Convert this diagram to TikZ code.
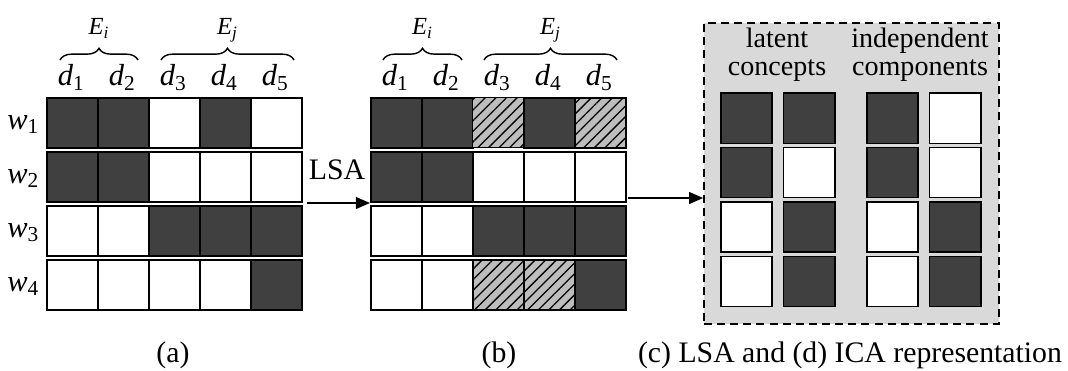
\documentclass[tikz,border=0pt]{standalone}
\usepackage{fontspec}
\setmainfont{Liberation Serif}
\usetikzlibrary{decorations.pathreplacing,patterns.meta,arrows.meta}
\definecolor{cellgray}{HTML}{404040}
\definecolor{hatchgray}{HTML}{BDBDBD}
\definecolor{boxgray}{HTML}{D9D9D9}
\begin{document}
\begin{tikzpicture}[x=0.015cm,y=-0.015cm,
	cell/.style={draw,line width=0.65pt,inner sep=0pt,minimum width=0.765cm,minimum height=0.75cm,anchor=north west},
	bigcell/.style={cell,minimum width=0.77cm,minimum height=0.75cm},
	v0/.style={fill=white},
	v1/.style={fill=cellgray},
	v2/.style={preaction={fill=hatchgray},pattern={Lines[angle=45,distance=3.2pt,line width=0.55pt]}},
	idx/.style={font=\fontsize{13}{13}\selectfont,inner sep=0pt},
	setlbl/.style={font=\fontsize{10.5}{10.5}\selectfont,inner sep=0pt,anchor=base},
	captxt/.style={font=\fontsize{12.7}{12.7}\selectfont,inner sep=0pt,anchor=base},
	headtxt/.style={font=\fontsize{12}{12}\selectfont,align=center,inner sep=0pt},
	setbrace/.style={decorate,decoration={brace,amplitude=5pt},line width=0.6pt},
	flow/.style={line width=0.8pt,-{Triangle[length=6pt,width=5pt]}}]
	\useasboundingbox (0,0) rectangle (1068,371);

	%Dashed panel behind (c) and (d)
	\node[draw,fill=boxgray,line width=0.65pt,dash pattern=on 3.4pt off 2.2pt,minimum width=4.425cm,minimum height=4.515cm,inner sep=0pt] (cdbox) at (851.5,173.5) {};

	%Matrix (a): 0 = white, 1 = dark
	\foreach \r/\row in {1/{1,1,0,1,0},2/{1,1,0,0,0},3/{0,0,1,1,1},4/{0,0,0,0,1}}
		\foreach \v [count=\c] in \row
			\node[cell,v\v] (a-\r-\c) at ({46+51*(\c-1)},{97+54*(\r-1)}) {};

	%Matrix (b): 2 = hatched
	\foreach \r/\row in {1/{1,1,2,1,2},2/{1,1,0,0,0},3/{0,0,1,1,1},4/{0,0,2,2,1}}
		\foreach \v [count=\c] in \row
			\node[cell,v\v] (b-\r-\c) at ({370+51*(\c-1)},{97+54*(\r-1)}) {};

	%Latent concepts and independent components
	\foreach \r/\row in {1/{1,1,1,0},2/{1,0,1,0},3/{0,1,0,1},4/{0,1,0,1}}
		\foreach \v [count=\c] in \row {
			\pgfmathsetmacro{\xc}{720+62.7*(\c-1)+20.6*(\c>2)}
			\node[bigcell,v\v] (c-\r-\c) at (\xc,{92.5+54.4*(\r-1)}) {};
		}
	\node[headtxt] (latent) at (777,55) {latent\\concepts};
	\node[headtxt] (indep) at (920,55) {independent\\components};

	%Row and column labels
	\foreach \r in {1,...,4}
		\node[idx,anchor=base east] (w\r) at (40,{129+54*(\r-1)}) {\textit{w}\textsubscript{\r}};
	\foreach \c in {1,...,5} {
		\node[idx,anchor=base] (a-d\c) at ({71.5+51*(\c-1)},86) {\textit{d}\textsubscript{\c}};
		\node[idx,anchor=base] (b-d\c) at ({395.5+51*(\c-1)},86) {\textit{d}\textsubscript{\c}};
	}

	%Braces over the document groups
	\draw[setbrace] (60,60) -- (138,60);
	\draw[setbrace] (161,60) -- (294,60);
	\draw[setbrace] (383,60) -- (462,60);
	\draw[setbrace] (484,60) -- (617,60);
	\node[setlbl] (a-Ei) at (99,35) {\textit{E}\textsubscript{\textit{i}}};
	\node[setlbl] (a-Ej) at (227.5,35) {\textit{E}\textsubscript{\textit{j}}};
	\node[setlbl] (b-Ei) at (422.5,35) {\textit{E}\textsubscript{\textit{i}}};
	\node[setlbl] (b-Ej) at (550.5,35) {\textit{E}\textsubscript{\textit{j}}};

	%Arrows between the panels
	\coordinate (lsaStart) at (307,203);
	\coordinate (cdStart) at (628,198);
	\draw[flow] (lsaStart) -- (lsaStart -| b-2-1.west);
	\draw[flow] (cdStart) -- (cdStart -| cdbox.west);
	\node[captxt] (lsa) at (337,179) {LSA};

	%Captions
	\node[captxt] (capA) at (173,362) {(a)};
	\node[captxt] (capB) at (499,362) {(b)};
	\node[captxt] (capCD) at (850,362) {(c) LSA and (d) ICA representation};

\end{tikzpicture}
\end{document}
